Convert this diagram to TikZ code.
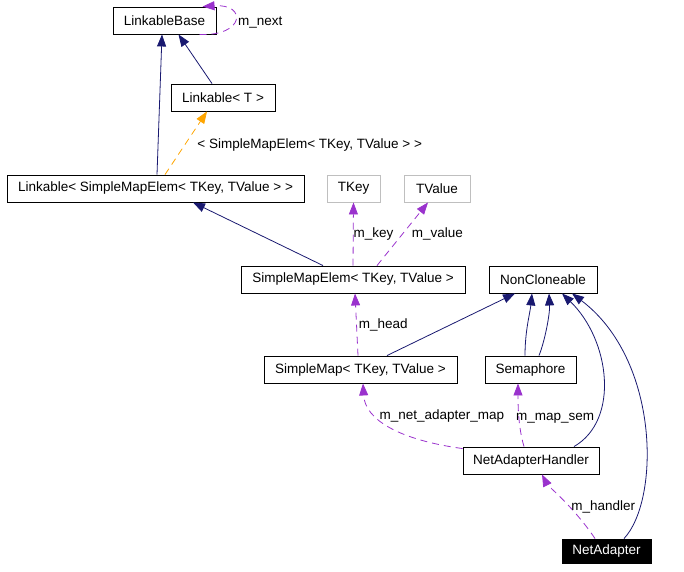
\documentclass[tikz,border=0pt]{standalone}
\usepackage{fontspec}
\setmainfont{Liberation Sans}
\usetikzlibrary{positioning, arrows.meta, calc}
\definecolor{inhblue}{HTML}{191970}
\definecolor{usepurple}{HTML}{9A32CD}
\definecolor{tplorange}{HTML}{FFA500}
\definecolor{extgray}{HTML}{BFBFBF}

\begin{document}
\begin{tikzpicture}[x=1pt, y=-1pt, >={Triangle[length=12pt, width=9pt]}, cls/.style={draw, rectangle, minimum height=27pt, inner xsep=0pt, line width=0.9pt, font=\fontsize{13.5}{15}\selectfont}, ext/.style={cls, draw=extgray}, inherit/.style={->, inhblue, line width=0.8pt}, usage/.style={->, usepurple, line width=0.8pt, dash pattern=on 7pt off 5pt}, tpl/.style={->, tplorange, line width=0.8pt, dash pattern=on 7pt off 5pt}, lbl/.style={font=\fontsize{13.5}{15}\selectfont, inner sep=0pt, text=black}]
\useasboundingbox (0,0) rectangle (684,571);
\node[cls, minimum width=103pt] (LinkableBase) at (164.5,20.5) {LinkableBase};
\node[cls, minimum width=104pt] (LinkableT) at (223,97.5) {Linkable< T >};
\node[cls, minimum width=297pt] (LinkableSME) at (155.5,188.5) {Linkable< SimpleMapElem< TKey, TValue > >};
\node[ext, minimum width=53pt] (TKey) at (353.5,188.5) {TKey};
\node[ext, minimum width=66pt] (TValue) at (437,188.5) {TValue};
\node[cls, minimum width=224pt] (SimpleMapElem) at (353,279.5) {SimpleMapElem< TKey, TValue >};
\node[cls, minimum width=108pt] (NonCloneable) at (543,279.5) {NonCloneable};
\node[cls, minimum width=193pt] (SimpleMap) at (360.5,369.5) {SimpleMap< TKey, TValue >};
\node[cls, minimum width=91pt] (Semaphore) at (530.5,369.5) {Semaphore};
\node[cls, minimum width=136pt] (NetAdapterHandler) at (531,460.5) {NetAdapterHandler};
\node[cls, fill=black, text=white, minimum width=89pt, minimum height=24pt] (NetAdapter) at (606.5,551) {NetAdapter};
\draw[inherit] ([xshift=-11pt]LinkableT.north) -- ([xshift=14pt]LinkableBase.south);
\draw[inherit] ([xshift=1.5pt]LinkableSME.north) -- ([xshift=-2.5pt]LinkableBase.south);
\draw[tpl] ([xshift=9.5pt]LinkableSME.north) -- ([xshift=-16pt]LinkableT.south) node[lbl, midway, right=11pt, yshift=-2pt] {< SimpleMapElem< TKey, TValue > >};
\draw[usage] ([xshift=35pt]LinkableBase.south) .. controls +(45,2) and +(45,-3) .. ([xshift=38pt]LinkableBase.north) node[lbl, pos=0.5, right=3pt, yshift=-2pt] {m\_next};
\draw[inherit] ([xshift=-30pt]SimpleMapElem.north) -- ([xshift=37.5pt]LinkableSME.south);
\draw[usage] (SimpleMapElem.north) -- (TKey.south) node[lbl, midway, right=0pt] {m\_key};
\draw[usage] ([xshift=24pt]SimpleMapElem.north) -- ([xshift=-9pt]TValue.south) node[lbl, midway, right=9pt] {m\_value};
\draw[usage] ([xshift=-2.5pt]SimpleMap.north) -- ([xshift=2pt]SimpleMapElem.south) node[lbl, midway, right=2pt] {m\_head};
\draw[inherit] ([xshift=26.5pt]SimpleMap.north) -- ([xshift=-28pt]NonCloneable.south);
\draw[inherit] ([xshift=-5.5pt]Semaphore.north) .. controls +(0,-25) and +(-2,20) .. ([xshift=-11pt]NonCloneable.south);
\draw[inherit] ([xshift=8.5pt]Semaphore.north) .. controls +(6,-15) and +(1,20) .. ([xshift=6pt]NonCloneable.south);
\draw[inherit] ([xshift=43pt]NetAdapterHandler.north) .. controls (620,420) and (610,340) .. ([xshift=19pt]NonCloneable.south);
\draw[inherit] ([xshift=17.5pt]NetAdapter.north) .. controls (660,500) and (660,360) .. ([xshift=29pt]NonCloneable.south);
\draw[usage] ([yshift=-2pt]NetAdapterHandler.north west) .. controls (400,440) and (365,420) .. ([xshift=2.5pt]SimpleMap.south) node[lbl, pos=0.62, anchor=west, yshift=2pt] {m\_net\_adapter\_map};
\draw[usage] ([xshift=-7pt]NetAdapterHandler.north) .. controls +(-6,-20) and +(0,20) .. ([xshift=-12.5pt]Semaphore.south) node[lbl, midway, anchor=west, xshift=-3pt, yshift=-3pt] {m\_map\_sem};
\draw[usage] ([xshift=-11.5pt]NetAdapter.north) .. controls +(-20,-30) and +(5,10) .. ([xshift=11pt]NetAdapterHandler.south) node[lbl, midway, right=8pt, yshift=-8pt] {m\_handler};
\end{tikzpicture}
\end{document}
